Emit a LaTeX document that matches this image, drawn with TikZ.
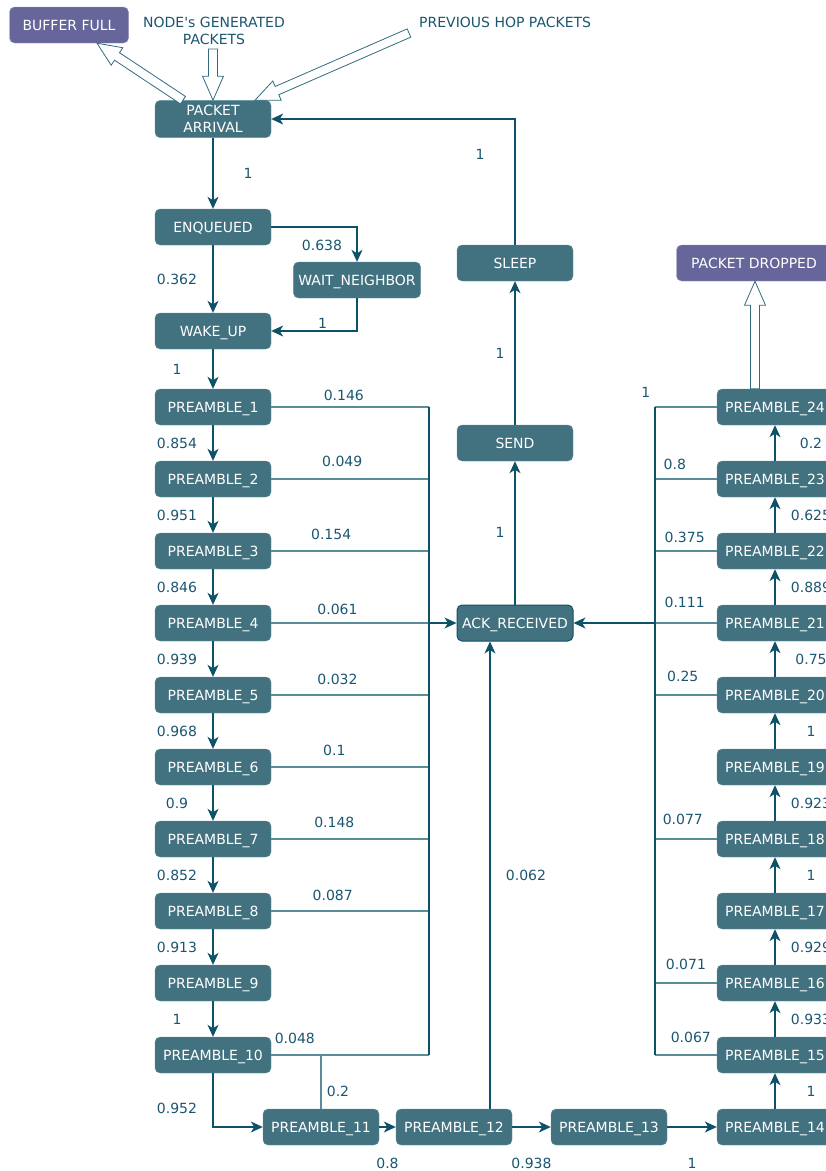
\documentclass[tikz,border=0pt]{standalone}
\usepackage{fontspec}
\setmainfont{DejaVu Sans}
\usetikzlibrary{arrows.meta, calc}
\definecolor{statefill}{HTML}{42727F}
\definecolor{stateline}{HTML}{6A95A1}
\definecolor{termfill}{HTML}{67669A}
\definecolor{edgecol}{HTML}{0E5268}
\definecolor{branchcol}{HTML}{5A8C9A}
\definecolor{labelcol}{HTML}{1A5670}
\tikzstyle{state} = [draw=stateline, fill=statefill, rounded corners=5pt, text=white, minimum width=116pt, minimum height=36pt, inner sep=5pt, align=center, text height=10.2pt, text depth=0pt, font=\fontsize{14}{17}\selectfont]
\tikzstyle{term} = [state, fill=termfill, draw=termfill!70!white]
\tikzstyle{note} = [text=labelcol, align=center, inner sep=1pt, font=\fontsize{14}{17}\selectfont]
\tikzstyle{prob} = [text=labelcol, inner sep=0pt, font=\fontsize{14}{17}\selectfont]
\tikzstyle{arrow} = [edgecol, line width=1.2pt, -{Stealth[length=12pt, width=11pt, inset=3.5pt]}]
\tikzstyle{branch} = [branchcol, line width=1.2pt]
\tikzstyle{bus} = [edgecol, line width=1.2pt]
\tikzstyle{hollow} = [draw=edgecol!85!white, line width=0.8pt, fill=white, line join=miter]
\newcommand{\hollowarrow}[2]{%
  \coordinate (hb) at ($(#2)!24pt!(#1)$);
  \draw[hollow] ($(#1)!4.5pt!90:(#2)$) -- ($(hb)!4.5pt!90:(#2)$) -- ($(hb)!10.5pt!90:(#2)$) -- (#2)
    -- ($(hb)!10.5pt!-90:(#2)$) -- ($(hb)!4.5pt!-90:(#2)$) -- ($(#1)!4.5pt!-90:(#2)$) -- cycle;}

\begin{document}
\begin{tikzpicture}[x=1pt, y=-1pt]
  \useasboundingbox (0,0) rectangle (826,1171);
  \clip (0,0) rectangle (826,1171);

  % states
  \node[state, text height=27.2pt] (arrival) at (213,119) {PACKET\\ARRIVAL};
  \node[state] (enq) at (213,227) {ENQUEUED};
  \node[state] (wait) at (357,280) {WAIT\_NEIGHBOR};
  \node[state] (wake) at (213,331) {WAKE\_UP};
  \node[term, minimum width=119pt] (buffer) at (69,25) {BUFFER FULL};
  \node[term, minimum width=155pt] (dropped) at (754,263) {PACKET DROPPED};
  \node[state] (sleep) at (515,263) {SLEEP};
  \node[state] (send) at (515,443) {SEND};
  \node[state, draw=edgecol, line width=1pt] (ack) at (515,623) {ACK\_RECEIVED};
  \node[note] (gen) at (214,31) {NODE\textquotesingle s GENERATED\\PACKETS};
  \node[note, anchor=west] (hop) at (418,22) {PREVIOUS HOP PACKETS};

  \foreach \i in {1,...,10}
    \node[state] (p\i) at (213,{407+72*(\i-1)}) {PREAMBLE\_\i};
  \foreach \i in {15,...,24}
    \node[state] (p\i) at (775,{1055-72*(\i-15)}) {PREAMBLE\_\i};
  \node[state] (p11) at (321,1127) {PREAMBLE\_11};
  \node[state] (p12) at (454,1127) {PREAMBLE\_12};
  \node[state] (p13) at (609,1127) {PREAMBLE\_13};
  \node[state] (p14) at (775,1127) {PREAMBLE\_14};

  % incoming / outgoing packets
  \coordinate (bufTail) at ([xshift=-30pt]arrival.north);
  \coordinate (bufTip) at ([xshift=28pt]buffer.south);
  \coordinate (genTail) at (213,49);
  \coordinate (hopTail) at (409,33);
  \coordinate (hopTip) at ([xshift=42pt]arrival.north);
  \coordinate (dropTail) at ([xshift=-20pt]p24.north);
  \coordinate (dropTip) at (dropTail |- dropped.south);
  \hollowarrow{bufTail}{bufTip}
  \hollowarrow{genTail}{arrival.north}
  \hollowarrow{hopTail}{hopTip}
  \hollowarrow{dropTail}{dropTip}

  % main chain
  \draw[arrow] (arrival) -- (enq) node[prob, midway, xshift=35pt] {1};
  \draw[arrow] (enq) -- (wake) node[prob, midway, xshift=-36pt] {0.362};
  \draw[arrow] (enq) -| (wait) node[prob, pos=0.5, xshift=-35pt, yshift=-18pt] {0.638};
  \draw[arrow] (wait) |- (wake) node[prob, pos=0.7, yshift=8pt] {1};
  \draw[arrow] (wake) -- (p1) node[prob, midway, xshift=-36pt] {1};
  \foreach \a/\b/\pr in {1/2/0.854, 2/3/0.951, 3/4/0.846, 4/5/0.939, 5/6/0.968,
                         6/7/0.9, 7/8/0.852, 8/9/0.913, 9/10/1}
    \draw[arrow] (p\a) -- (p\b) node[prob, midway, xshift=-36pt] {\pr};
  \draw[arrow] (p10) |- (p11) node[prob, pos=0.33, xshift=-36pt] {0.952};
  \draw[arrow] (p11) -- (p12) node[prob, midway, yshift=-36pt] {0.8};
  \draw[arrow] (p12) -- (p13) node[prob, midway, yshift=-36pt] {0.938};
  \draw[arrow] (p13) -- (p14) node[prob, midway, yshift=-36pt] {1};
  \foreach \a/\b/\pr in {14/15/1, 15/16/0.933, 16/17/0.929, 17/18/1, 18/19/0.923,
                         19/20/1, 20/21/0.75, 21/22/0.889, 22/23/0.625, 23/24/0.2}
    \draw[arrow] (p\a) -- (p\b) node[prob, midway, xshift=36pt] {\pr};

  % acknowledgement and sleep
  \draw[arrow] ([xshift=36pt]p12.north) -- ([xshift=36pt]p12.north |- ack.south)
    node[prob, midway, xshift=36pt] {0.062};
  \draw[arrow] (ack) -- (send) node[prob, midway, xshift=-15pt] {1};
  \draw[arrow] (send) -- (sleep) node[prob, midway, xshift=-15pt] {1};
  \draw[arrow] (sleep) |- (arrival) node[prob, pos=0.36, xshift=-35pt] {1};

  % left bus
  \coordinate (busL) at (429,623);
  \foreach \i/\pr/\ps/\dy in {1/0.146/0.46/6, 2/0.049/0.45/12, 3/0.154/0.38/11, 4/0.061/0.42/8,
                              5/0.032/0.42/10, 6/0.1/0.4/11, 7/0.148/0.4/11, 8/0.087/0.39/10,
                              10/0.048/0.15/11}
    \draw[branch] (p\i.east) -- (p\i.east -| busL) node[prob, pos=\ps, above=\dy pt] {\pr};
  \draw[branch] (p11.north) -- (p11.north |- p10) node[prob, pos=0.33, xshift=17pt] {0.2};
  \draw[bus] (busL |- p1) -- (busL |- p10);
  \draw[arrow] (busL) -- (ack);

  % right bus
  \coordinate (busR) at (655,623);
  \foreach \i/\pr/\ps/\dy in {24/1/1.15/9, 23/0.8/0.68/9, 22/0.375/0.52/8, 21/0.111/0.52/15,
                              20/0.25/0.55/13, 18/0.077/0.55/14, 16/0.071/0.5/13, 15/0.067/0.42/12}
    \draw[branch] (p\i.west) -- (p\i.west -| busR) node[prob, pos=\ps, above=\dy pt] {\pr};
  \draw[bus] (busR |- p24) -- (busR |- p15);
  \draw[arrow] (busR) -- (ack);
\end{tikzpicture}
\end{document}
